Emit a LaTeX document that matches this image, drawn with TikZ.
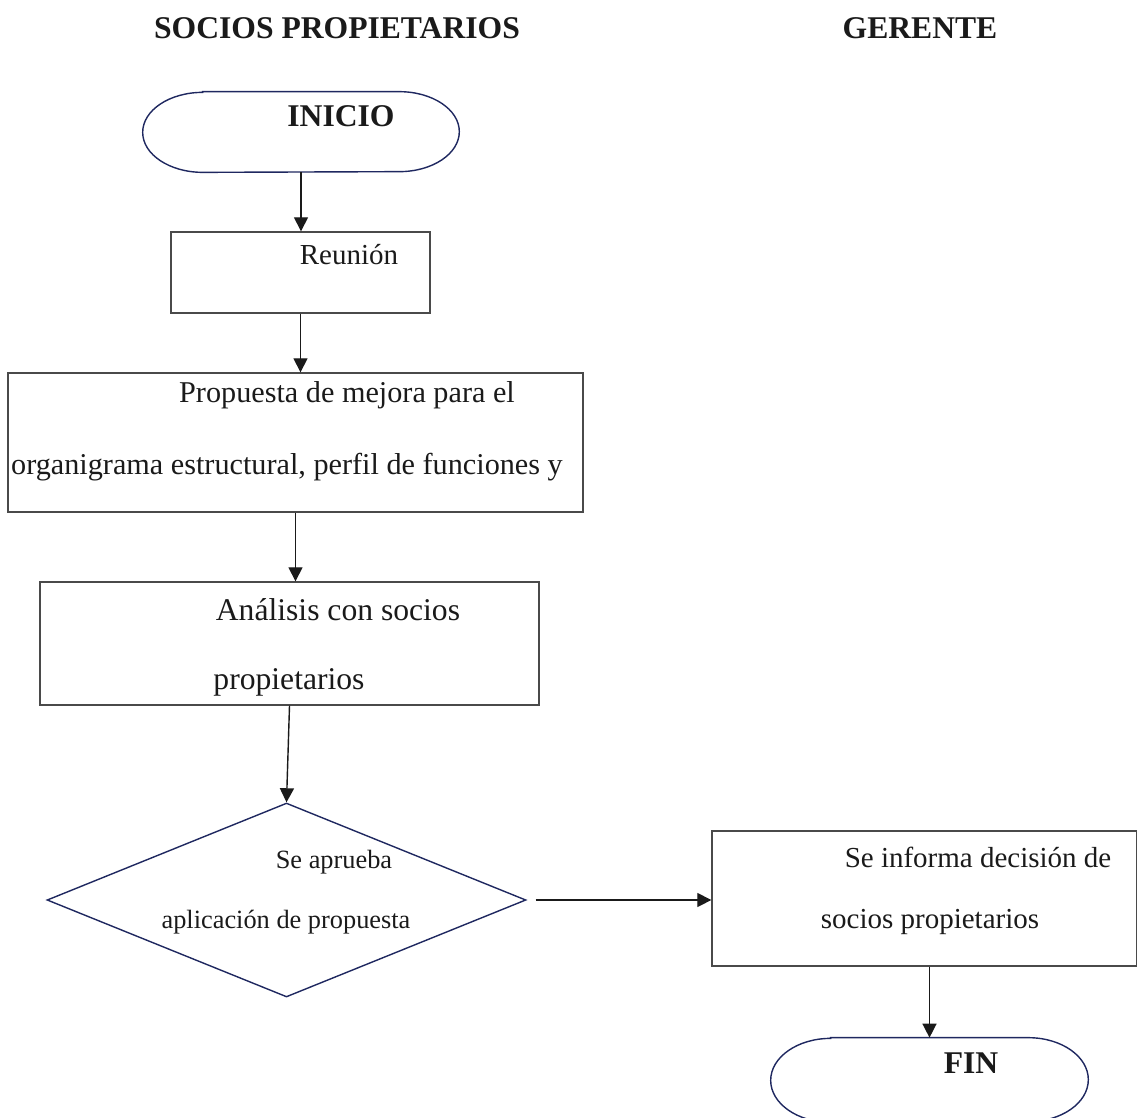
\documentclass[tikz,border=0pt]{standalone}
\usepackage{fontspec}
\setmainfont{Liberation Serif}
\usetikzlibrary{arrows.meta,shapes.geometric}

\definecolor{navy}{HTML}{1F2860}
\definecolor{boxgray}{HTML}{4A4A4A}
\definecolor{ink}{HTML}{1A1A1A}

\tikzset{
  box/.style={draw=boxgray,line width=0.8pt,inner sep=0pt},
  terminal/.style={inner sep=0pt},
  decision/.style={diamond,draw=navy,line width=0.8pt,inner sep=0pt},
  flecha/.style={draw=ink,line width=0.8pt,-{Triangle[length=8pt,width=8pt]}},
  titulo/.style={font=\bfseries\fontsize{18}{21}\selectfont,text=ink,inner sep=0pt},
  txt/.style={font=\fontsize{16.5}{19}\selectfont,text=ink,inner sep=0pt},
  medio/.style={font=\fontsize{17.2}{20}\selectfont,text=ink,inner sep=0pt},
  grande/.style={font=\fontsize{18}{21}\selectfont,text=ink,inner sep=0pt},
  chico/.style={font=\fontsize{15}{18}\selectfont,text=ink,inner sep=0pt}
}

% contorno de inicio / fin, extremos elipticos
\newcommand{\contorno}[2]{%
  \draw[navy,line width=0.8pt] ([xshift=1.2cm]#1.north west) -- ([xshift=-1.2cm]#1.north east)
    arc[start angle=90,end angle=-90,x radius=1.2cm,y radius=#2]
    -- ([xshift=1.2cm]#1.south west)
    arc[start angle=270,end angle=90,x radius=1.2cm,y radius=#2] -- cycle;}

\begin{document}
\begin{tikzpicture}[x=0.02cm,y=-0.02cm]
\useasboundingbox (0,0) rectangle (1137,1117);

\node[titulo] (socios) at (337,28) {SOCIOS PROPIETARIOS};
\node[titulo] (gerente) at (920,28) {GERENTE};

\node[terminal,minimum width=6.32cm,minimum height=1.6cm] (inicio) at (301,132) {};
\node[box,minimum width=5.18cm,minimum height=1.62cm] (reunion) at (300.5,272.5) {};
\node[box,minimum width=11.5cm,minimum height=2.78cm] (propuesta) at (295.5,442.5) {};
\node[box,minimum width=9.98cm,minimum height=2.46cm] (analisis) at (289.5,643.5) {};
\node[decision,minimum width=9.58cm,minimum height=3.88cm] (aprueba) at (286.5,900) {};
\node[box,minimum width=8.5cm,minimum height=2.7cm] (informa) at (924.5,898.5) {};
\node[terminal,minimum width=6.34cm,minimum height=1.68cm] (fin) at (929.5,1080) {};

\contorno{inicio}{0.8cm}
\contorno{fin}{0.84cm}

\node[titulo] (t-inicio) at (341,116) {INICIO};
\node[txt] (t-reunion) at (349,255) {Reunión};
\node[medio] (t-propuesta1) at (347,395) {Propuesta de mejora para el};
\node[medio] (t-propuesta2) at (287,467) {organigrama estructural, perfil de funciones y};
\node[grande] (t-analisis1) at (338,610) {Análisis con socios};
\node[grande] (t-analisis2) at (289,682) {propietarios};
\node[chico] (t-aprueba1) at (334,862) {Se aprueba};
\node[chico] (t-aprueba2) at (286,922) {aplicación de propuesta};
\node[txt] (t-informa1) at (978,857) {Se informa decisión de};
\node[txt] (t-informa2) at (930,922) {socios propietarios};
\node[titulo] (t-fin) at (971,1063) {FIN};

\draw[flecha] (inicio.south) -- (inicio.south |- reunion.north);
\draw[flecha] (reunion.south) -- (reunion.south |- propuesta.north);
\draw[flecha] (propuesta.south) -- (propuesta.south |- analisis.north);
\draw[flecha] (analisis.south) -- (aprueba.north);
\draw[flecha,shorten <=0.18cm] (aprueba.east) -- (aprueba.east -| informa.west);
\draw[flecha] (fin.north |- informa.south) -- (fin.north);
\end{tikzpicture}
\end{document}
